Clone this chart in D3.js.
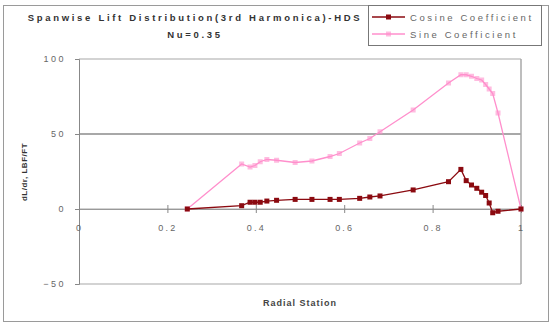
<!DOCTYPE html>
<html>
<head>
<meta charset="utf-8">
<script src="https://cdn.jsdelivr.net/npm/d3@7"></script>
<style>
  body { margin: 0; background: #fff; }
  svg { display: block; font-family: "Liberation Sans", Arial, sans-serif; }
</style>
</head>
<body>
<svg id="chart" width="557" height="324"></svg>
<script>
// ---- data ----
const stations = [0.245, 0.368, 0.387, 0.398, 0.41, 0.425, 0.447, 0.489, 0.527, 0.568, 0.589, 0.635, 0.658, 0.681, 0.756, 0.836, 0.864, 0.876, 0.888, 0.9, 0.911, 0.92, 0.928, 0.936, 0.948, 1.0];
const cosineCoef = [0, 2.2, 4.5, 4.5, 4.5, 5.3, 5.8, 6.4, 6.4, 6.4, 6.4, 7.1, 8, 8.7, 12.7, 18.2, 26.4, 18.9, 16, 13.8, 11.2, 9, 4, -2.5, -1.5, 0];
const sineCoef = [0, 30, 28, 29, 31.5, 33, 32.5, 31, 32, 35, 37, 44, 47, 51.5, 66, 84, 89.5, 89.5, 88.5, 87, 86, 83, 80, 77, 64, 0];
const seriesNames = ["Cosine Coefficient", "Sine Coefficient"];
const xTicks = [0, 0.2, 0.4, 0.6, 0.8, 1];
const yTicks = [-50, 0, 50, 100];
const titleLines = ["Spanwise Lift Distribution(3rd Harmonica)-HDS", "Nu=0.35"];
const xTitle = "Radial Station";
const yTitle = "dL/dr, LBF/FT";

// ---- drawing ----
const svg = d3.select("#chart");
const x = d3.scaleLinear().domain([0, 1]).range([79, 521]);
const y = d3.scaleLinear().domain([-50, 100]).range([284, 59]);

// outer chart border
svg.append("rect").attr("x", 3.5).attr("y", 5.5).attr("width", 545).attr("height", 316)
  .attr("fill", "#fff").attr("stroke", "#9a9a9a").attr("stroke-width", 1);

// gridlines
svg.append("g").selectAll("line").data(yTicks).join("line")
  .attr("x1", x(0)).attr("x2", x(1))
  .attr("y1", d => y(d)).attr("y2", d => y(d))
  .attr("stroke", "#a8a8a8").attr("stroke-width", d => d === 50 ? 2 : 1.2);
// right border of plot area
svg.append("line").attr("x1", x(1)).attr("x2", x(1)).attr("y1", y(100)).attr("y2", y(-50))
  .attr("stroke", "#a8a8a8").attr("stroke-width", 1.5);

// y axis
const yAxis = svg.append("g").attr("transform", `translate(${x(0)},0)`)
  .call(d3.axisLeft(y).tickValues(yTicks).tickSize(4).tickPadding(9).tickFormat(d3.format("d")));
yAxis.select(".domain").attr("stroke", "#888");
yAxis.selectAll(".tick line").attr("stroke", "#888");
yAxis.selectAll("text").attr("fill", "#666").attr("font-size", 9).attr("letter-spacing", 2.5);

// x axis at y=0
const xAxis = svg.append("g").attr("transform", `translate(0,${y(0)})`)
  .call(d3.axisBottom(x).tickValues(xTicks).tickSizeInner(4).tickSizeOuter(0).tickPadding(12)
    .tickFormat(d => d === 0 || d === 1 ? String(d) : d3.format(".1f")(d)));
xAxis.select(".domain").attr("stroke", "#999").attr("stroke-width", 1.2);
xAxis.selectAll(".tick line").attr("stroke", "#888").attr("y1", -4);
xAxis.selectAll("text").attr("fill", "#666").attr("font-size", 9).attr("letter-spacing", 2.2);

// series
const series = [
  { name: seriesNames[0], values: cosineCoef, color: "#8b0a10", size: 5 },
  { name: seriesNames[1], values: sineCoef, color: "#ff8fcc", size: 5 }
];
const line = d3.line().x(d => x(d[0])).y(d => y(d[1]));
series.slice().reverse().forEach(s => {
  const pts = stations.map((st, i) => [st, s.values[i]]);
  svg.append("path").datum(pts).attr("d", line)
    .attr("fill", "none").attr("stroke", s.color).attr("stroke-width", 1.3);
  svg.append("g").selectAll("rect").data(pts).join("rect")
    .attr("x", d => x(d[0]) - s.size / 2).attr("y", d => y(d[1]) - s.size / 2)
    .attr("width", s.size).attr("height", s.size)
    .attr("fill", s.color).attr("fill-opacity", s === series[1] ? 0.6 : 1);
});

// titles
svg.append("g").selectAll("text").data(titleLines).join("text")
  .attr("x", 195).attr("y", (d, i) => 21 + i * 17)
  .attr("text-anchor", "middle").attr("font-size", 9.5).attr("font-weight", "bold")
  .attr("letter-spacing", 2.7).attr("fill", "#333").text(d => d);

svg.append("text").attr("x", 300).attr("y", 306).attr("text-anchor", "middle")
  .attr("font-size", 9).attr("font-weight", "bold").attr("letter-spacing", 1)
  .attr("fill", "#444").text(xTitle);

svg.append("text").attr("transform", "translate(27,172) rotate(-90)")
  .attr("text-anchor", "middle").attr("font-size", 8).attr("font-weight", "bold")
  .attr("letter-spacing", 0.5).attr("fill", "#333").text(yTitle);

// legend
const lg = svg.append("g");
lg.append("rect").attr("x", 368.5).attr("y", 5.5).attr("width", 173).attr("height", 40)
  .attr("fill", "#fff").attr("stroke", "#777").attr("stroke-width", 1);
series.forEach((s, i) => {
  const ly = 17 + i * 17;
  lg.append("line").attr("x1", 372).attr("x2", 405).attr("y1", ly).attr("y2", ly)
    .attr("stroke", s.color).attr("stroke-width", 1.5);
  lg.append("rect").attr("x", 388.5 - 2.5).attr("y", ly - 2.5).attr("width", 5).attr("height", 5)
    .attr("fill", s.color).attr("fill-opacity", i === 1 ? 0.6 : 1);
  lg.append("text").attr("x", 410).attr("y", ly + 3.5).attr("font-size", 9.5)
    .attr("letter-spacing", 2.6).attr("fill", "#666").text(s.name);
});
</script>
</body>
</html>
